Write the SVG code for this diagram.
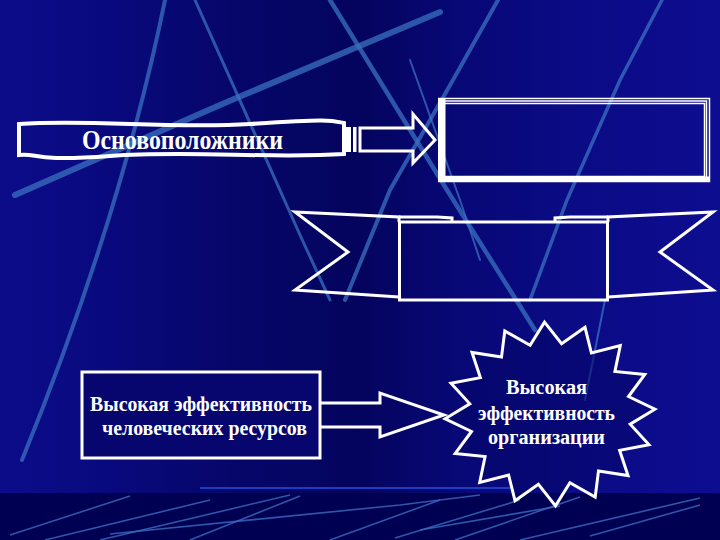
<svg xmlns="http://www.w3.org/2000/svg" width="720" height="540" viewBox="0 0 720 540">
  <defs>
    <linearGradient id="bg" x1="0" y1="0" x2="1" y2="0">
      <stop offset="0" stop-color="#0c0c8a"/>
      <stop offset="0.15" stop-color="#09097e"/>
      <stop offset="0.32" stop-color="#06066a"/>
      <stop offset="0.5" stop-color="#04045e"/>
      <stop offset="0.62" stop-color="#070774"/>
      <stop offset="0.8" stop-color="#0b0b86"/>
      <stop offset="1" stop-color="#0d0d90"/>
    </linearGradient>
    <linearGradient id="rule" x1="0" y1="0" x2="1" y2="0">
      <stop offset="0" stop-color="#6a7a70" stop-opacity="0.3"/>
      <stop offset="0.2" stop-color="#a8c050"/>
      <stop offset="0.65" stop-color="#b8cc5a"/>
      <stop offset="0.85" stop-color="#707a6a"/>
      <stop offset="1" stop-color="#506070" stop-opacity="0.4"/>
    </linearGradient>
    <style>
      .streak { stroke: #3a72c0; fill: none; stroke-linecap: round; opacity: 0.75; }
      .thin { stroke: #3a6cc0; fill: none; stroke-width: 1.6; opacity: 0.8; }
      .wl { fill: none; stroke: #ffffff; stroke-linejoin: miter; }
      .lbl { font-family: "Liberation Serif", "Times New Roman", serif; font-weight: bold; fill: #ffffff; text-anchor: middle; }
    </style>
  </defs>

  <!-- background -->
  <rect x="0" y="0" width="720" height="540" fill="url(#bg)"/>
  <rect x="0" y="493" width="720" height="47" fill="#000052"/>
  <g id="streaks">
    <path class="streak" stroke-width="4" d="M165,0 Q120,220 22,460"/>
    <path class="streak" stroke-width="3" d="M195,0 L300,235 L330,300"/>
    <path class="streak" stroke-width="6" d="M440,12 L220,105 L15,195" opacity="0.65"/>
    <path class="streak" stroke-width="4.5" d="M330,0 L447,190 L535,330"/>
    <path class="streak" stroke-width="4" d="M498,0 L453,80 L390,190 L345,300"/>
    <path class="streak" stroke-width="3.5" d="M662,0 L620,80 L567,200 L530,300"/>
    <path class="streak" stroke-width="2" d="M410,60 L460,200 L480,260" opacity="0.5"/>
    <path class="streak" stroke-width="2" d="M605,300 L585,400" opacity="0.4"/>
  </g>
  <g id="bottom-lines">
    <line x1="200" y1="488" x2="510" y2="488" stroke="#1d3cc0" stroke-width="2"/>
    <line x1="0" y1="492.5" x2="720" y2="492.5" stroke="url(#rule)" stroke-width="3"/>
    <path class="thin" d="M10,535 L130,496"/>
    <path class="thin" d="M45,540 L210,500"/>
    <path class="thin" d="M100,540 L290,495"/>
    <path class="thin" d="M110,534 L400,505 L480,495"/>
    <path class="thin" d="M190,540 L300,496"/>
    <path class="thin" d="M330,540 L440,500"/>
    <path class="thin" d="M395,538 L520,500"/>
    <path class="thin" d="M420,530 L560,506"/>
    <path class="thin" d="M455,540 L580,497"/>
    <path class="thin" d="M520,540 L700,498"/>
    <path class="thin" d="M590,536 L700,505"/>
  </g>

  <!-- connectors -->
  <g id="connectors">
    <g id="c-founders-top">
      <rect x="346" y="127" width="5" height="25" fill="#ffffff"/>
      <rect x="353" y="127" width="3.5" height="25" fill="#ffffff"/>
      <path class="wl" stroke-width="3" d="M360,128 L413,128 L413,114 L435,140 L413,163 L413,151 L360,151 Z"/>
    </g>
    <g id="c-hr-org">
      <path class="wl" stroke-width="3" d="M320,403 L380,403 L380,393 L444,415 L380,437 L380,427 L320,427"/>
    </g>
  </g>

  <!-- nodes -->
  <g id="n-founders">
    <path class="wl" stroke-width="4" d="M19,124 C90,119 170,129 250,124 S330,120 344,123 L344,154 C270,159 190,150 110,156 S40,153 19,155 Z"/>
    <text class="lbl" transform="translate(182.5,149) scale(1,1.12)" font-size="25" textLength="201" lengthAdjust="spacingAndGlyphs">Основоположники</text>
  </g>

  <g id="n-top">
    <rect x="439" y="98.5" width="270.5" height="83" fill="none" stroke="#ffffff" stroke-width="1.5"/>
    <rect x="441.5" y="101" width="265" height="78" fill="none" stroke="#ffffff" stroke-width="1.5"/>
    <rect x="441.5" y="103.5" width="263" height="73" fill="none" stroke="#ffffff" stroke-width="1.5"/>
    <rect x="438" y="98" width="7.5" height="84" fill="#ffffff"/>
    <rect x="438" y="176.5" width="272" height="5.5" fill="#ffffff"/>
  </g>

  <g id="n-ribbon">
    <path class="wl" stroke-width="3" d="M399,222 L399,217 L295,212 L348,252 L295,290 L399,297"/>
    <path class="wl" stroke-width="3" d="M608,222 L608,217 L713,212 L660,252 L713,290 L608,297"/>
    <path class="wl" stroke-width="3" d="M399,217 L437,217 L452,218 L452,222"/>
    <path class="wl" stroke-width="3" d="M608,217 L570,217 L555,218 L555,222"/>
    <rect x="399.5" y="222" width="208" height="78" fill="none" stroke="#ffffff" stroke-width="3"/>
  </g>

  <g id="n-hr">
    <rect x="82" y="372" width="238" height="86" fill="#06066e" stroke="#ffffff" stroke-width="3"/>
    <text class="lbl" x="201" y="411" font-size="20" textLength="222" lengthAdjust="spacingAndGlyphs">Высокая эффективность</text>
    <text class="lbl" x="204.5" y="435" font-size="20" textLength="205" lengthAdjust="spacingAndGlyphs">человеческих ресурсов</text>
  </g>

  <g id="n-org">
    <polygon fill="#05056a" fill-opacity="0.55" stroke="#ffffff" stroke-width="3" stroke-linejoin="miter" points="544.5,322.1 561.6,343.7 585.0,327.3 591.4,353.0 620.3,345.6 614.9,371.5 644.8,374.4 628.5,396.5 654.9,409.2 630.2,424.2 649.0,444.7 619.6,450.3 628.0,475.6 598.5,470.9 595.2,497.0 569.9,482.8 555.5,505.9 538.4,484.3 515.0,500.7 508.6,475.0 479.7,482.4 485.1,456.5 455.2,453.6 471.5,431.5 445.1,418.8 469.8,403.8 451.0,383.3 480.4,377.7 472.0,352.4 501.5,357.1 504.8,331.0 530.1,345.2"/>
    <text class="lbl" transform="translate(546.5,394) scale(1,1.1)" font-size="19" textLength="81" lengthAdjust="spacingAndGlyphs">Высокая</text>
    <text class="lbl" transform="translate(546.5,420) scale(1,1.1)" font-size="19" textLength="137" lengthAdjust="spacingAndGlyphs">эффективность</text>
    <text class="lbl" transform="translate(546.5,444) scale(1,1.1)" font-size="19" textLength="117" lengthAdjust="spacingAndGlyphs">организации</text>
  </g>
</svg>
